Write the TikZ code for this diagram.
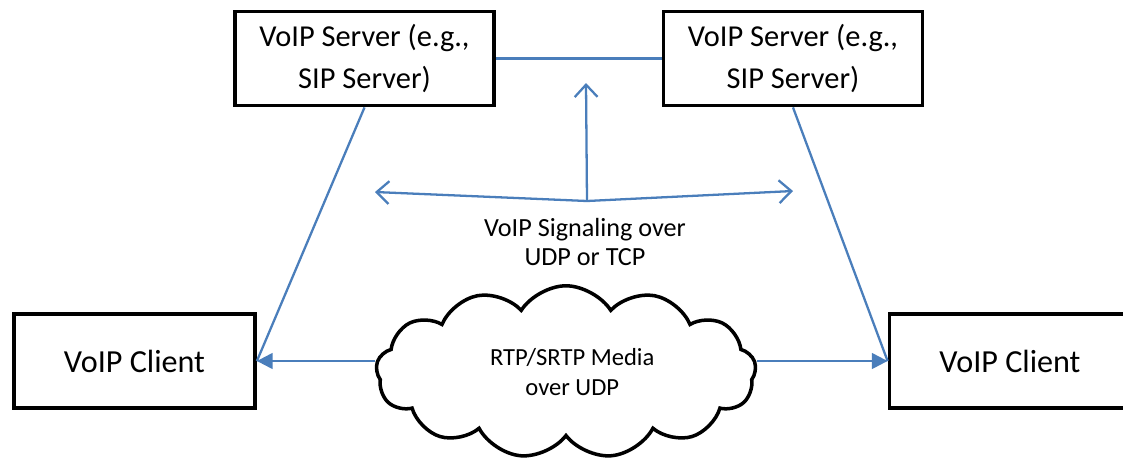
\documentclass[tikz,border=0pt]{standalone}
\usepackage{fontspec}
\setmainfont{Carlito}
\definecolor{voipblue}{HTML}{4A7EBB}
\usepackage{tikz}
\usetikzlibrary{shapes.symbols,arrows.meta,positioning}

\begin{document}
\begin{tikzpicture}[x=0.02cm,y=-0.02cm,
  box/.style={draw=black, line width=2.2pt, fill=white,
              minimum width=5.18cm, minimum height=1.88cm,
              align=center, inner sep=0pt,
              font=\fontsize{17.3}{23.5}\selectfont},
  client/.style={box, minimum width=4.82cm,
              font=\fontsize{18.3}{22}\selectfont},
  link/.style={draw=voipblue, line width=1.3pt},
  sig/.style={link, -{Straight Barb[length=7pt,width=13pt]}},
  media/.style={link, -{Triangle[length=9pt,width=9pt]}}
]
  \useasboundingbox (0,0) rectangle (1123,461);

  \node[box] (lsrv) at (364.5,58.5) {VoIP Server (e.g.,\\SIP Server)};
  \node[box] (rsrv) at (793,58.5)   {VoIP Server (e.g.,\\SIP Server)};
  \node[client] (lcli) at (134.5,361) {VoIP Client};
  \node[client] (rcli) at (1010,361)  {VoIP Client};

  \node[cloud, draw=black, line width=2pt, fill=white,
        cloud puffs=13, cloud puff arc=115, aspect=2.3,
        minimum width=7.6cm, minimum height=3.45cm,
        align=center, font=\fontsize{14}{17.5}\selectfont]
    (media) at (566,372) {\hspace*{0.25cm}RTP/SRTP Media\\\hspace*{0.25cm}over UDP};

  % signaling
  \coordinate (hub) at (587,201);
  \coordinate (up)  at (586,83);
  \coordinate (lt)  at (375,192);
  \coordinate (rt)  at (793,191);
  \draw[sig] (hub) -- (up);
  \draw[sig] (hub) -- (lt);
  \draw[sig] (hub) -- (rt);
  \node[align=center, font=\fontsize{14.9}{16.5}\selectfont] (siglbl)
    at (585,242) {VoIP Signaling over\\UDP or TCP};

  \draw[link] (lsrv) -- (rsrv);
  \draw[link] (lsrv.south) -- (lcli.east);
  \draw[link] (rsrv.south) -- (rcli.west);
  \draw[media] (media.west |- lcli.east) -- (lcli.east);
  \draw[media] (media.east |- rcli.west) -- (rcli.west);
\end{tikzpicture}
\end{document}
